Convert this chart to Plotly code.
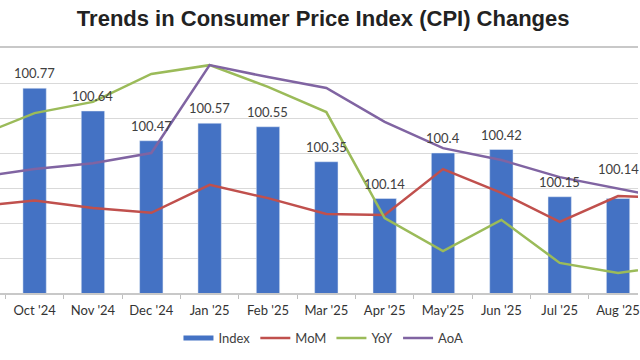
import plotly.graph_objects as go

months = ["Sep '24", "Oct '24", "Nov '24", "Dec '24", "Jan '25", "Feb '25", "Mar '25",
          "Apr '25", "May'25", "Jun '25", "Jul '25", "Aug '25", "Sep '25"]
index_vals = [None, 100.77, 100.64, 100.47, 100.57, 100.55, 100.35,
              100.14, 100.40, 100.42, 100.15, 100.14, None]
index_labels = ["", "100.77", "100.64", "100.47", "100.57", "100.55", "100.35",
                "100.14", "100.4", "100.42", "100.15", "100.14", ""]
mom = [2.48, 2.64, 2.43, 2.29, 3.09, 2.71, 2.26, 2.23, 3.54, 2.86, 2.03, 2.77, 2.71]
yoy = [4.47, 5.14, 5.46, 6.26, 6.51, 5.89, 5.17, 2.14, 1.20, 2.09, 0.86, 0.57, 0.80]
aoa = [3.30, 3.54, 3.71, 4.00, 6.51, 6.17, 5.86, 4.89, 4.14, 3.80, 3.31, 3.00, 2.66]

BLUE = "#4472C4"
RED = "#C0504D"
GREEN = "#9BBB59"
PURPLE = "#8064A2"
TXT = "#404040"
FONT = "Lato, Liberation Sans, Arial"

fig = go.Figure()
fig.add_trace(go.Bar(
    x=months, y=index_vals, name="Index", marker_color=BLUE, width=0.4,
    showlegend=False,
))
# legend proxy for bars (drawn as thick line like the original legend key)
fig.add_trace(go.Scatter(x=[None], y=[None], mode="lines", name="Index",
                         line=dict(color=BLUE, width=5)))
for name, vals, col in [("MoM", mom, RED), ("YoY", yoy, GREEN), ("AoA", aoa, PURPLE)]:
    fig.add_trace(go.Scatter(x=months, y=vals, name=name, mode="lines", yaxis="y2",
                             line=dict(color=col, width=2.5)))

# data labels above the bars (the last one sits higher, above the lines)
last = max(i for i, v in enumerate(index_vals) if v is not None)
for i, (m, v, lab) in enumerate(zip(months, index_vals, index_labels)):
    if v is None:
        continue
    fig.add_annotation(x=m, y=v, text=lab, showarrow=False, yanchor="bottom",
                       yshift=20 if i == last else 5,
                       font=dict(size=13, color=TXT, family=FONT))

fig.update_layout(
    width=640, height=360,
    margin=dict(l=0, r=0, t=48, b=67),
    paper_bgcolor="white", plot_bgcolor="white",
    title=dict(text="<b>Trends in Consumer Price Index (CPI) Changes</b>",
               x=0.505, xanchor="center", y=0.95, yanchor="middle",
               font=dict(size=22, color="#222222", family="Liberation Sans, Arial")),
    xaxis=dict(type="category", range=[0.407, 11.342], showgrid=False,
               showline=True, mirror=True, linecolor="#c8c8c8", linewidth=1.5,
               ticks="outside", tickson="boundaries", ticklen=4, tickcolor="#bfbfbf",
               ticklabelstandoff=5,
               tickfont=dict(size=13, color="#333333", family=FONT)),
    yaxis=dict(range=[99.6, 101.0], dtick=0.2, showticklabels=False,
               showgrid=True, gridcolor="#d9d9d9", gridwidth=1, zeroline=False),
    yaxis2=dict(range=[0, 7], overlaying="y", showgrid=False, visible=False),
    legend=dict(orientation="h", x=0.507, xanchor="center", y=-0.184, yanchor="middle",
                font=dict(size=13, color=TXT, family=FONT), itemwidth=30,
                traceorder="normal"),
)

fig.write_html("out.html", config={"displayModeBar": False},
               post_script="document.body.style.margin='0px';document.body.style.overflow='hidden';")
